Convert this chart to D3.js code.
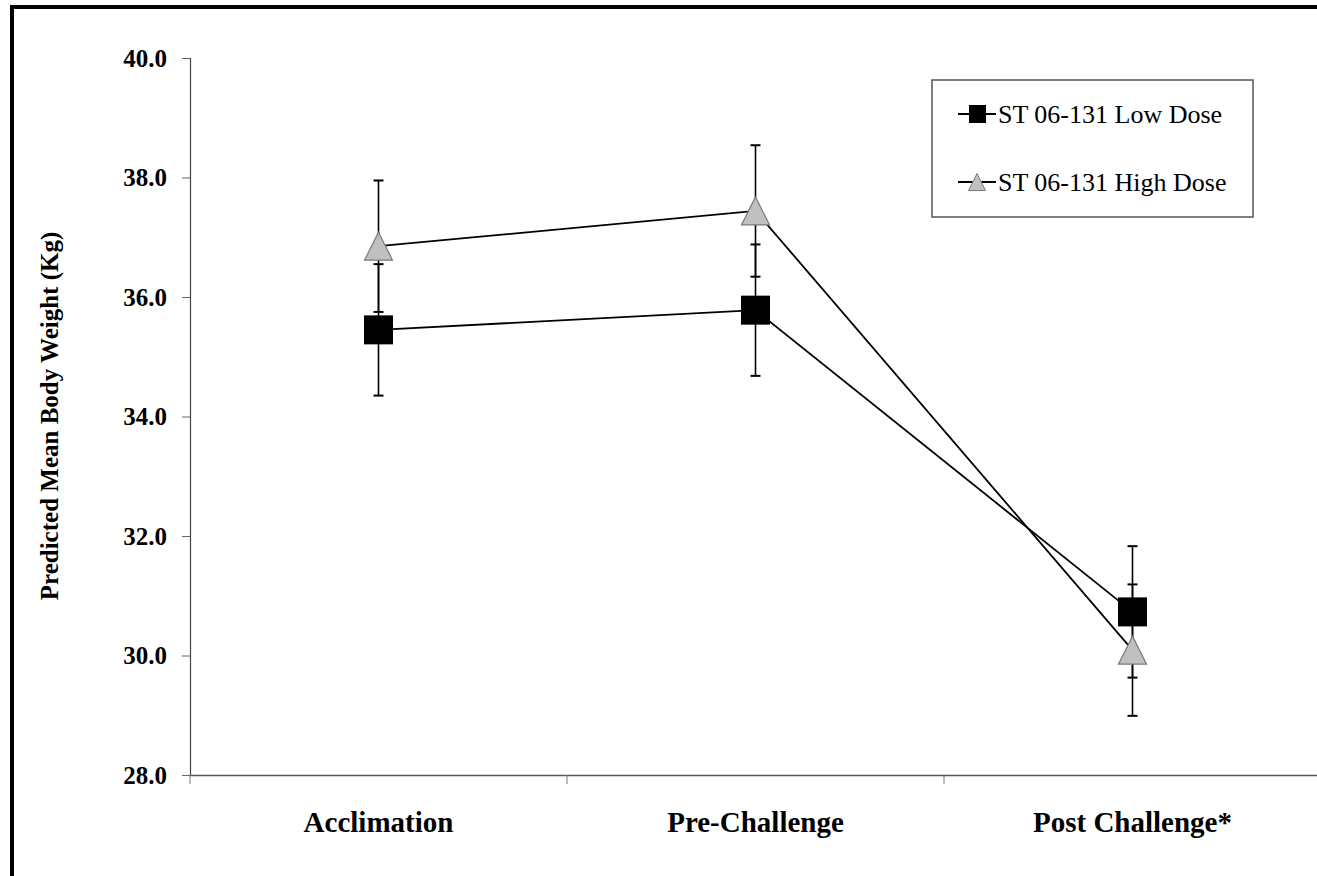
<!DOCTYPE html>
<html>
<head>
<meta charset="utf-8">
<script src="https://cdn.jsdelivr.net/npm/d3@7"></script>
<style>
  html, body { margin: 0; padding: 0; background: #fff; }
  svg { display: block; }
</style>
</head>
<body>
<script>
// ---- data ----
const categories = ["Acclimation", "Pre-Challenge", "Post Challenge*"];
const lowDose = [35.45, 35.78, 30.73];
const highDose = [36.85, 37.44, 30.09];
const lowErr = [1.1, 1.1, 1.1];
const highErr = [1.1, 1.1, 1.1];
const seriesNames = ["ST 06-131 Low Dose", "ST 06-131 High Dose"];
const yTicks = [28, 30, 32, 34, 36, 38, 40];
const yTitle = "Predicted Mean Body Weight (Kg)";

const W = 1317, H = 876;
const svg = d3.select("body").append("svg").attr("width", W).attr("height", H);

// outer frame (left & top visible)
svg.append("rect").attr("x", 12).attr("y", 7).attr("width", W + 20).attr("height", H + 20)
  .attr("fill", "#fff").attr("stroke", "#000").attr("stroke-width", 4);

const x = d3.scaleBand().domain(categories).range([190, 1321]);
const y = d3.scaleLinear().domain([28, 40]).range([775, 58]);
const cx = c => x(c) + x.bandwidth() / 2;

const serif = "'Liberation Serif', 'Times New Roman', serif";

// y axis
const yAxis = svg.append("g").attr("transform", "translate(190,0)")
  .call(d3.axisLeft(y).tickValues(yTicks).tickFormat(d3.format(".1f")).tickSize(8).tickPadding(15));
yAxis.select(".domain").attr("stroke", "#444").attr("stroke-width", 1.2);
yAxis.selectAll(".tick line").attr("stroke", "#666");
yAxis.selectAll("text").attr("font-family", serif).attr("font-weight", "bold")
  .attr("font-size", 25).attr("fill", "#000");

// x axis
const xAxis = svg.append("g").attr("transform", "translate(0,775)")
  .call(d3.axisBottom(x).tickSize(0).tickPadding(0).tickSizeOuter(0));
xAxis.select(".domain").attr("stroke", "#555").attr("stroke-width", 1.5);
xAxis.selectAll("text").attr("font-family", serif).attr("font-weight", "bold")
  .attr("font-size", 29).attr("fill", "#000").attr("y", 57).attr("dy", "0");
// category boundary ticks
const bounds = categories.map(c => x(c));
svg.append("g").selectAll("line").data(bounds).join("line")
  .attr("x1", d => d).attr("x2", d => d).attr("y1", 775).attr("y2", 784)
  .attr("stroke", "#777").attr("stroke-width", 1);

// y title
svg.append("text")
  .attr("transform", "translate(58,416) rotate(-90)")
  .attr("text-anchor", "middle")
  .attr("font-family", serif).attr("font-weight", "bold").attr("font-size", 25)
  .text(yTitle);

// lines
const line = d3.line().x((d, i) => cx(categories[i])).y(d => y(d));
svg.append("path").datum(lowDose).attr("d", line).attr("fill", "none").attr("stroke", "#000").attr("stroke-width", 1.8);
svg.append("path").datum(highDose).attr("d", line).attr("fill", "none").attr("stroke", "#000").attr("stroke-width", 1.8);

// error bars
function errBars(vals, errs) {
  const g = svg.append("g").attr("stroke", "#000").attr("stroke-width", 1.6);
  vals.forEach((v, i) => {
    const px = cx(categories[i]);
    g.append("line").attr("x1", px).attr("x2", px).attr("y1", y(v + errs[i])).attr("y2", y(v - errs[i]));
    [v + errs[i], v - errs[i]].forEach(e => {
      g.append("line").attr("x1", px - 5).attr("x2", px + 5).attr("y1", y(e)).attr("y2", y(e)).attr("stroke-width", 2);
    });
  });
}
errBars(lowDose, lowErr);
errBars(highDose, highErr);

// markers
const sq = 29;
svg.append("g").selectAll("rect").data(lowDose).join("rect")
  .attr("x", (d, i) => cx(categories[i]) - sq / 2).attr("y", d => y(d) - sq / 2)
  .attr("width", sq).attr("height", sq).attr("fill", "#000");

function triPath(px, py, s) {
  const h = s;
  return `M${px},${py - h / 2} L${px + s / 2},${py + h / 2} L${px - s / 2},${py + h / 2} Z`;
}
svg.append("g").selectAll("path").data(highDose).join("path")
  .attr("d", (d, i) => triPath(cx(categories[i]), y(d), 28))
  .attr("fill", "#c0c0c0").attr("stroke", "#7a7a7a").attr("stroke-width", 1.2);

// legend
const lg = svg.append("g");
lg.append("rect").attr("x", 932).attr("y", 80).attr("width", 321).attr("height", 137)
  .attr("fill", "#fff").attr("stroke", "#555").attr("stroke-width", 1.5);
const rows = [114, 182];
rows.forEach((ry, i) => {
  lg.append("line").attr("x1", 958).attr("x2", 996).attr("y1", ry).attr("y2", ry)
    .attr("stroke", "#000").attr("stroke-width", 1.8);
  if (i === 0) {
    lg.append("rect").attr("x", 969).attr("y", ry - 9).attr("width", 17).attr("height", 18).attr("fill", "#000");
  } else {
    lg.append("path").attr("d", triPath(977, ry, 17)).attr("fill", "#c0c0c0")
      .attr("stroke", "#7a7a7a").attr("stroke-width", 1);
  }
  lg.append("text").attr("x", 998).attr("y", ry).attr("dy", "0.35em")
    .attr("font-family", serif).attr("font-size", 26).attr("fill", "#000")
    .text(seriesNames[i]);
});
</script>
</body>
</html>
